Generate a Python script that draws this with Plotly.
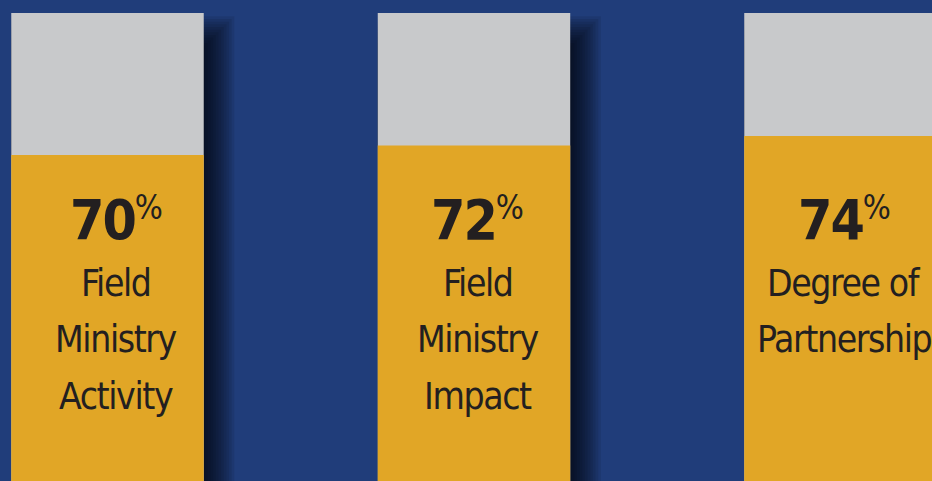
import plotly.graph_objects as go

# ---- data ----
categories = ["Field Ministry Activity", "Field Ministry Impact", "Degree of Partnership"]
label_lines = [["Field", "Ministry", "Activity"],
               ["Field", "Ministry", "Impact"],
               ["Degree of", "Partnership"]]
values = [70, 72, 74]
full = [100, 100, 100]

# ---- style ----
BG = "#203d7a"
GREY = "#c8c9cb"
GOLD = "#e1a626"
TEXT = "#231f20"
W, H = 932, 481
YR = [1.06, 102.75]
XR = [-0.2933, 2.2497]
BAR_W = 0.5252
px_x = W / (XR[1] - XR[0])
px_y = H / (YR[1] - YR[0])

fig = go.Figure()

# soft drop shadow from nested translucent layers
N = 12
ox, oy, r = 16, 18, 16
alpha = 1 - (1 - 0.66) ** (1 / N)
for k in range(N):
    t = (k + 0.5) / N
    ext = ox - r + 2 * r * t
    drop = oy + r - 2 * r * t
    fig.add_trace(go.Bar(
        x=categories, y=[f - drop / px_y for f in full], base=0,
        width=BAR_W + ext / px_x, offset=-BAR_W / 2,
        marker=dict(color=f"rgba(0,0,0,{alpha:.4f})", line=dict(width=0)),
        hoverinfo="skip", showlegend=False))

fig.add_trace(go.Bar(x=categories, y=full, width=BAR_W,
                     marker=dict(color=GREY, line=dict(width=0)), showlegend=False))
fig.add_trace(go.Bar(x=categories, y=values, width=BAR_W,
                     marker=dict(color=GOLD, line=dict(width=0)), showlegend=False))

FAM = "DejaVu Sans Condensed, DejaVu Sans"
NUM_SIZE = 55
PCT_BASE = 47
LAB_SIZE = 37
nudges = [9, 4, 4]
LINE_BASE = [297, 353, 410]
for cat, v, lines, dx in zip(categories, values, label_lines, nudges):
    st = "font-stretch:condensed"
    fig.add_annotation(
        x=cat, y=1 - 220 / H, xref="x", yref="paper", xshift=dx,
        text=(f"<span style='{st};font-size:{NUM_SIZE}px;letter-spacing:-2px'><b>{v}</b></span>"
              f"<sup><span style='{st}'>%</span></sup>"),
        showarrow=False, xanchor="center", yanchor="middle",
        font=dict(family=FAM, size=PCT_BASE, color=TEXT))
    for line, base in zip(lines, LINE_BASE):
        fig.add_annotation(
            x=cat, y=1 - (base - LAB_SIZE) / H, xref="x", yref="paper", xshift=dx,
            text=f"<span style='{st};letter-spacing:-1.4px'>{line}</span>", showarrow=False,
            xanchor="center", yanchor="top",
            font=dict(family=FAM, size=LAB_SIZE, color=TEXT))

fig.update_layout(
    width=W, height=H, margin=dict(l=0, r=0, t=0, b=0),
    paper_bgcolor=BG, plot_bgcolor=BG, barmode="overlay",
    xaxis=dict(range=XR, visible=False, fixedrange=True),
    yaxis=dict(range=YR, visible=False, fixedrange=True),
)

fig.write_html("out.html", config={"displayModeBar": False},
               post_script="document.body.style.margin='0';document.body.style.background='" + BG + "';")
